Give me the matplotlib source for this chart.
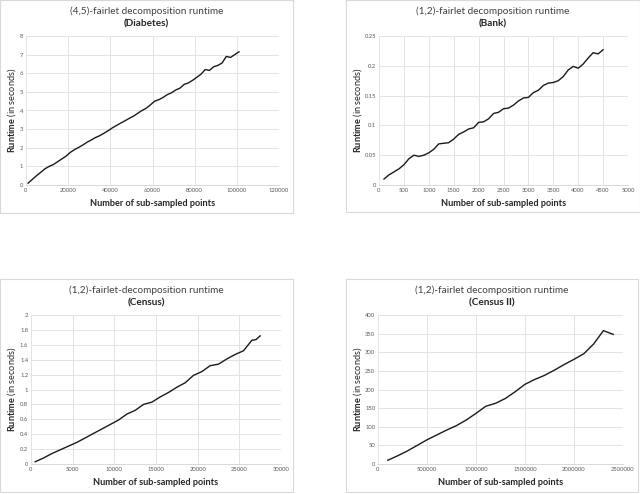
import matplotlib
matplotlib.use("Agg")
import matplotlib.pyplot as plt
from matplotlib.patches import Rectangle
from matplotlib.ticker import FuncFormatter

plt.rcParams['font.family'] = ['Lato', 'DejaVu Sans']
plt.rcParams['mathtext.fontset'] = 'custom'
plt.rcParams['mathtext.rm'] = 'Lato'
plt.rcParams['mathtext.bf'] = 'Lato:bold'

# ---------------- data ----------------
diabetes_x = list(range(1000, 101001, 2000))
diabetes_y = [0.1, 0.3, 0.5, 0.68, 0.87, 1.0, 1.1, 1.25, 1.4, 1.55, 1.75, 1.9, 2.02,
              2.15, 2.3, 2.42, 2.55, 2.65, 2.78, 2.92, 3.07, 3.2, 3.33, 3.45, 3.58,
              3.7, 3.85, 4.0, 4.12, 4.3, 4.5, 4.58, 4.7, 4.85, 4.95, 5.1, 5.2, 5.4,
              5.48, 5.62, 5.78, 5.95, 6.2, 6.15, 6.35, 6.42, 6.55, 6.9, 6.85, 7.0, 7.15]

bank_x = list(range(100, 4501, 100))
bank_y = [0.01, 0.017, 0.022, 0.027, 0.034, 0.044, 0.05, 0.048, 0.05, 0.054, 0.06,
          0.069, 0.07, 0.071, 0.077, 0.085, 0.089, 0.094, 0.096, 0.105, 0.106, 0.111,
          0.12, 0.122, 0.128, 0.129, 0.134, 0.141, 0.146, 0.147, 0.155, 0.159, 0.167,
          0.171, 0.172, 0.175, 0.182, 0.193, 0.199, 0.196, 0.203, 0.213, 0.222, 0.22,
          0.227]

census_x = [500, 1500, 2500, 3500, 4500, 5500, 6500, 7500, 8500, 9500, 10500, 11500,
            12500, 13500, 14500, 15500, 16500, 17500, 18500, 19500, 20500, 21500,
            22500, 23500, 24500, 25500, 26500, 27000, 27500]
census_y = [0.03, 0.08, 0.14, 0.19, 0.24, 0.29, 0.35, 0.41, 0.47, 0.53, 0.59, 0.67,
            0.72, 0.80, 0.83, 0.90, 0.96, 1.03, 1.09, 1.19, 1.24, 1.32, 1.34, 1.41,
            1.47, 1.52, 1.66, 1.67, 1.72]

census2_x = list(range(100000, 2400001, 100000))
census2_y = [10, 22, 35, 50, 65, 78, 91, 103, 118, 136, 155, 163, 176, 194, 214, 227,
             238, 252, 267, 281, 296, 322, 358, 348]

titles = ["(4,5)-fairlet decomposition runtime", "(1,2)-fairlet decomposition runtime",
          "(1,2)-fairlet-decomposition runtime", "(1,2)-fairlet decomposition runtime"]
subtitles = ["(Diabetes)", "(Bank)", "(Census)", "(Census II)"]
xlabel = "Number of sub-sampled points"
ylabel = r"$\mathbf{Runtime}$ (in seconds)"

# ---------------- layout (pixels) ----------------
W, H = 640, 494
fig = plt.figure(figsize=(W / 100, H / 100), dpi=100)

def fx(px):
    return px / W

def fy(py):
    return 1 - py / H

panels = [
    dict(x=diabetes_x, y=diabetes_y, ax=(26, 36, 279, 185), frame=(0, 0, 293, 213),
         xlim=(0, 120000), xstep=20000, ylim=(0, 8), ystep=1),
    dict(x=bank_x, y=bank_y, ax=(379, 36, 628, 185), frame=(346, 0, 640, 212),
         xlim=(0, 5000), xstep=500, ylim=(0, 0.25), ystep=0.05),
    dict(x=census_x, y=census_y, ax=(31, 315, 281, 464), frame=(0, 279, 293, 492),
         xlim=(0, 30000), xstep=5000, ylim=(0, 2), ystep=0.2),
    dict(x=census2_x, y=census2_y, ax=(378, 315, 623, 464), frame=(346, 279, 638, 492),
         xlim=(0, 2500000), xstep=500000, ylim=(0, 400), ystep=50),
]

import numpy as np

for i, p in enumerate(panels):
    l, t, r, b = p['ax']
    fl, ft, fr, fb = p['frame']
    fig.patches.append(Rectangle((fx(fl), fy(fb)), fx(fr - fl), (fb - ft) / H,
                                 transform=fig.transFigure, fill=False,
                                 edgecolor='#d9d9d9', linewidth=0.8))
    ax = fig.add_axes([fx(l), fy(b), fx(r - l), (b - t) / H])
    ax.plot(p['x'], p['y'], color='#1a1a1a', linewidth=1.0)
    ax.set_xlim(*p['xlim'])
    ax.set_ylim(*p['ylim'])
    ax.set_xticks(np.arange(p['xlim'][0], p['xlim'][1] + p['xstep'] / 2, p['xstep']))
    ax.set_yticks(np.arange(p['ylim'][0], p['ylim'][1] + p['ystep'] / 2, p['ystep']))
    fmt = FuncFormatter(lambda v, pos: f"{round(v, 6):g}" if abs(v) < 1e5 else f"{int(round(v))}")
    ax.xaxis.set_major_formatter(fmt)
    ax.yaxis.set_major_formatter(fmt)
    ax.tick_params(length=0, labelsize=4.2, labelcolor='#595959', pad=2)
    ax.grid(True, color='#e3e3e3', linewidth=0.7)
    ax.set_axisbelow(True)
    for s in ['top', 'right', 'left']:
        ax.spines[s].set_visible(False)
    ax.spines['bottom'].set_color('#d9d9d9')
    ax.spines['bottom'].set_linewidth(0.7)

    cx_frame = (fl + fr) / 2
    fig.text(fx(cx_frame), fy(ft + 11), titles[i], ha='center', va='center',
             fontsize=7.2, color='#404040')
    fig.text(fx(cx_frame), fy(ft + 24), subtitles[i], ha='center', va='center',
             fontsize=7.2, fontweight='bold', color='#262626')
    fig.text(fx((l + r) / 2), fy(b + 18), xlabel, ha='center', va='center',
             fontsize=6.6, fontweight='bold', color='#262626')
    fig.text(fx(fl + 12), fy((t + b) / 2), ylabel, ha='center', va='center',
             rotation=90, fontsize=6.6, color='#262626')

fig.savefig("out.png", dpi=100, facecolor='white')
